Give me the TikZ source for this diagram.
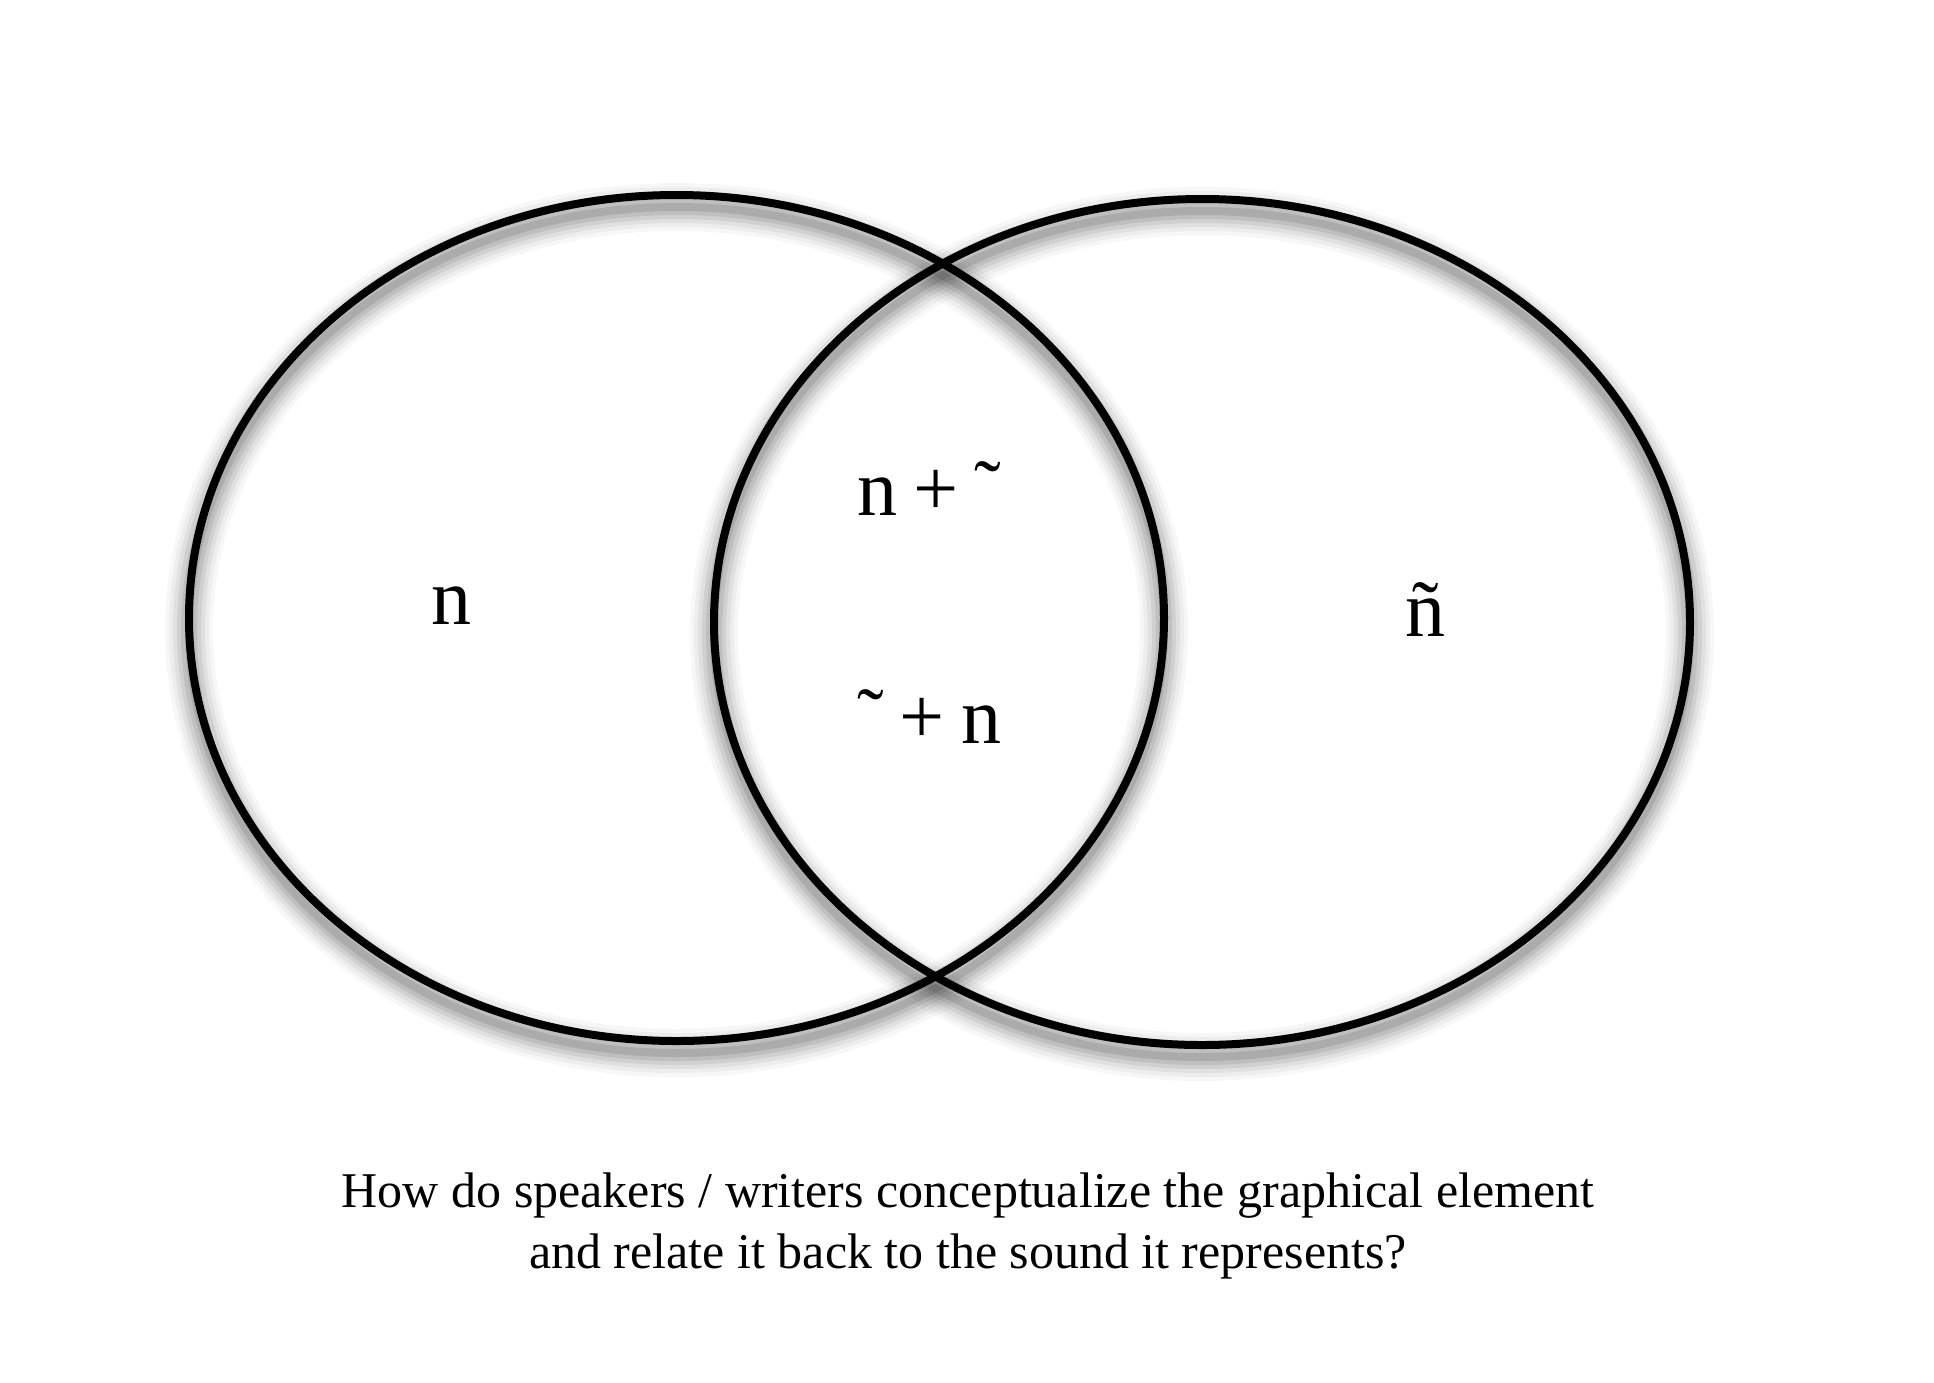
\documentclass[tikz,border=0pt]{standalone}
\usepackage{fontspec}
\setmainfont{Liberation Serif}
\begin{document}
\begin{tikzpicture}[x=1pt,y=-1pt,
  ring/.style={draw=black,line width=8pt},
  lbl/.style={font=\fontsize{80}{96}\selectfont,inner sep=0pt,anchor=base},
  lblw/.style={font=\fontsize{80}{96}\selectfont,inner sep=0pt,anchor=base west},
  captext/.style={font=\fontsize{50}{61}\selectfont,inner sep=0pt,anchor=base}]
\useasboundingbox (0,0) rectangle (1934,1382);
\fill[white] (0,0) rectangle (1934,1382);
% soft drop shadows
\foreach \w/\o in {48/0.03,40/0.04,32/0.05,24/0.07,16/0.08,8/0.1}{
  \draw[line width=\w pt,black,opacity=\o] (676.5,630) ellipse [x radius=487.5pt,y radius=423pt];
  \draw[line width=\w pt,black,opacity=\o] (1202,634) ellipse [x radius=488pt,y radius=423pt];
}
% rings
\draw[ring] (676.5,618) ellipse [x radius=487.5pt,y radius=423pt];
\draw[ring] (1202,622) ellipse [x radius=488pt,y radius=423pt];
% labels
\node[lbl] (nleft) at (451,624) {n};
\node[lbl] (ntilde) at (1425,636) {ñ};
\node[lblw] (ntop) at (857,515) {n\hspace{16pt}+\hspace{16pt}˜};
\node[lblw] (nbot) at (857,743) {˜\hspace{16pt}+\hspace{17pt}n};
\node[captext] (cap1) at (968,1207) {How do speakers / writers conceptualize the graphical element};
\node[captext] (cap2) at (968,1268) {and relate it back to the sound it represents?};
\end{tikzpicture}
\end{document}
